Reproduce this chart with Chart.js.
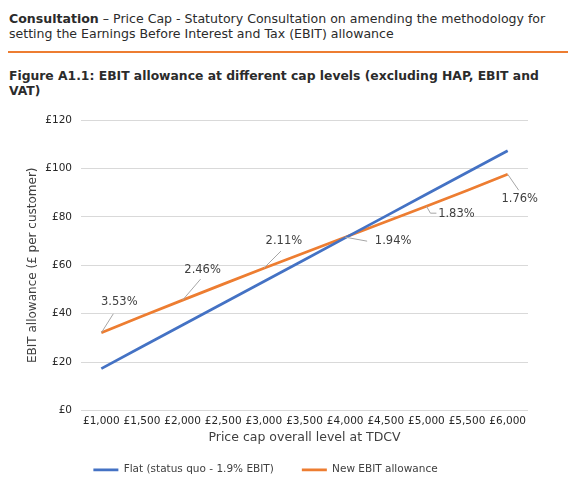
<!DOCTYPE html>
<html>
<head>
<meta charset="UTF-8" />
<title>EBIT allowance</title>
<script src="https://cdn.jsdelivr.net/npm/chart.js"></script>
<style>
    body { margin: 0; width: 571px; height: 486px; background: #fff; overflow: hidden; position: relative; font-family: "DejaVu Sans", Verdana, sans-serif; color: #2b2b2b; }
    .cabecera { position: absolute; left: 9px; top: 11px; font-size: 12.55px; line-height: 15px; white-space: nowrap; }
    .regla { position: absolute; left: 8px; top: 51px; width: 560px; height: 2px; background: #ED7D31; }
    .titulo { position: absolute; left: 9px; top: 69px; font-size: 12.35px; line-height: 14.5px; font-weight: bold; width: 550px; }
    .grafico { position: absolute; left: 0; top: 100px; width: 571px; height: 386px; }
</style>
</head>
<body>
<div class="cabecera"><b>Consultation</b> – Price Cap - Statutory Consultation on amending the methodology for<br>setting the Earnings Before Interest and Tax (EBIT) allowance</div>
<div class="regla"></div>
<div class="titulo">Figure A1.1: EBIT allowance at different cap levels (excluding HAP, EBIT and VAT)</div>
<div class="grafico"><canvas id="ebit" width="571" height="386"></canvas></div>
<script>
// datos
const categorias = ['£1,000', '£1,500', '£2,000', '£2,500', '£3,000', '£3,500', '£4,000', '£4,500', '£5,000', '£5,500', '£6,000'];
const planoValores = [17.3, 26.3, 35.3, 44.3, 53.3, 62.3, 71.3, 80.3, 89.3, 98.3, 107.3];
const nuevoValores = [32.1, 38.9, 45.6, 52.2, 58.8, 65.2, 71.6, 78.0, 84.4, 90.9, 97.6];
const etiquetasPct = ['3.53%', null, '2.46%', null, '2.11%', null, '1.94%', null, '1.83%', null, '1.76%'];
const ticksY = [0, 20, 40, 60, 80, 100, 120];

const fuente = '"DejaVu Sans", Verdana, sans-serif';

// posicion de cada etiqueta respecto al punto: texto [dx, dy] y linea guia
const posEtiquetas = {
    0: { texto: [18, -31], guia: [[12, -19]] },
    2: { texto: [20, -30], guia: [[18, -21]] },
    4: { texto: [20, -27], guia: [[17, -17]] },
    6: { texto: [48, 4], guia: [[22, 4]] },
    8: { texto: [30, 8], guia: [[4, 7], [10, 7]] },
    10: { texto: [12, 25], guia: [[11, 16]] }
};

const etiquetasPlugin = {
    id: 'etiquetasPct',
    afterDatasetsDraw(chart) {
        const meta = chart.getDatasetMeta(1);
        const ctx = chart.ctx;
        ctx.save();
        ctx.font = '11.5px ' + fuente;
        ctx.textAlign = 'center';
        ctx.textBaseline = 'middle';
        etiquetasPct.forEach((txt, i) => {
            if (!txt) return;
            const p = meta.data[i];
            const pos = posEtiquetas[i];
            ctx.strokeStyle = '#a6a6a6';
            ctx.lineWidth = 1;
            ctx.beginPath();
            ctx.moveTo(p.x, p.y);
            pos.guia.forEach(g => ctx.lineTo(p.x + g[0], p.y + g[1]));
            ctx.stroke();
            ctx.fillStyle = '#404040';
            ctx.fillText(txt, p.x + pos.texto[0], p.y + pos.texto[1]);
        });
        ctx.restore();
    }
};

new Chart(document.getElementById('ebit'), {
    type: 'line',
    data: {
        labels: categorias,
        datasets: [
            {
                label: 'Flat (status quo - 1.9% EBIT)',
                data: planoValores,
                borderColor: '#4472C4',
                backgroundColor: '#4472C4',
                borderWidth: 2.75,
                pointRadius: 0,
                tension: 0
            },
            {
                label: 'New EBIT allowance',
                data: nuevoValores,
                borderColor: '#ED7D31',
                backgroundColor: '#ED7D31',
                borderWidth: 2.75,
                pointRadius: 0,
                tension: 0
            }
        ]
    },
    options: {
        responsive: false,
        animation: false,
        layout: { padding: { left: 3, right: 43, top: 20, bottom: 1 } },
        plugins: {
            legend: {
                position: 'bottom',
                labels: {
                    usePointStyle: true,
                    pointStyle: 'line',
                    pointStyleWidth: 25,
                    padding: 28,
                    color: '#404040',
                    font: { family: fuente, size: 10.5 }
                }
            },
            tooltip: { enabled: false }
        },
        scales: {
            x: {
                offset: true,
                grid: { display: false, drawTicks: false },
                border: { display: false },
                ticks: { autoSkip: false, maxRotation: 0, padding: 4, color: '#262626', font: { family: fuente, size: 10.5 } },
                title: { display: true, text: 'Price cap overall level at TDCV', color: '#404040', font: { family: fuente, size: 12.5 }, padding: { top: 0, bottom: -9 } },
                afterFit(scale) { scale.height = 26; }
            },
            y: {
                min: 0,
                max: 120,
                afterBuildTicks(scale) { scale.ticks = ticksY.map(v => ({ value: v })); },
                grid: { color: '#d9d9d9', drawTicks: false },
                border: { display: false },
                ticks: { padding: 9, color: '#262626', font: { family: fuente, size: 10.5 }, callback: v => '£' + v },
                title: { display: true, text: 'EBIT allowance (£ per customer)', color: '#404040', font: { family: fuente, size: 12 }, padding: { top: 23, bottom: 0 } },
                afterFit(scale) { scale.width = 78; }
            }
        }
    },
    plugins: [etiquetasPlugin]
});
</script>
</body>
</html>
